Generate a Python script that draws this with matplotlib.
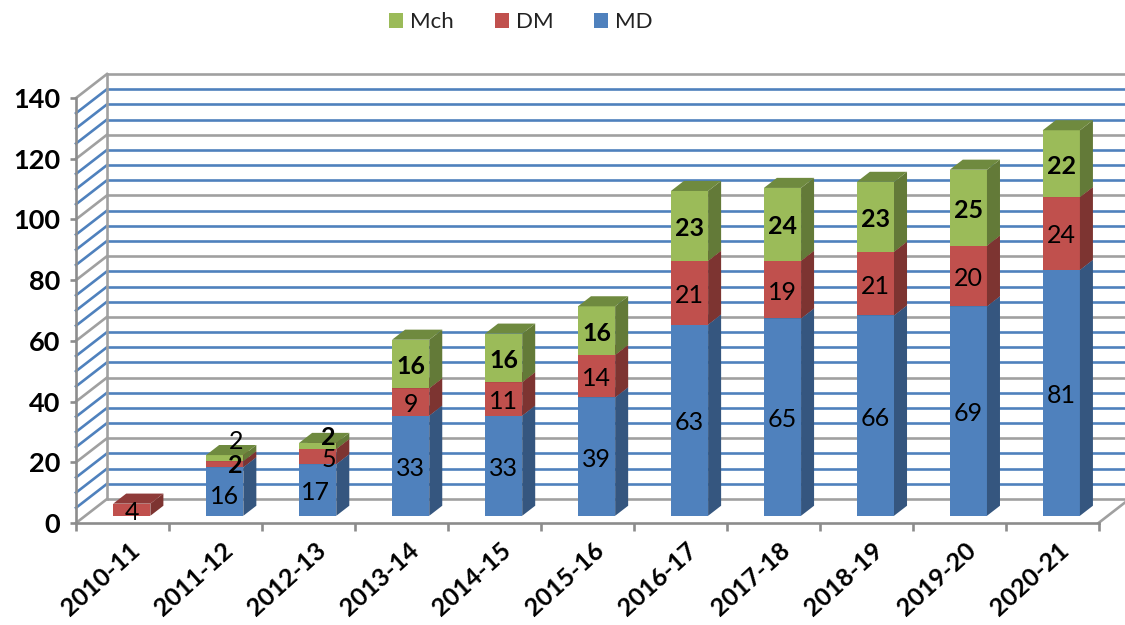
#!/usr/bin/env python3

import matplotlib
matplotlib.use("Agg")
import matplotlib.pyplot as plt
from matplotlib.patches import Polygon, Patch
from matplotlib.transforms import ScaledTranslation

plt.rcParams['font.family'] = ['Lato', 'DejaVu Sans']

years = ["2010-11", "2011-12", "2012-13", "2013-14", "2014-15", "2015-16",
         "2016-17", "2017-18", "2018-19", "2019-20", "2020-21"]
md = [0, 16, 17, 33, 33, 39, 63, 65, 66, 69, 81]
dm = [4, 2, 5, 9, 11, 14, 21, 19, 21, 20, 24]
mch = [0, 2, 2, 16, 16, 16, 23, 24, 23, 25, 22]

W, H = 1125, 625
# front plane of the fake 3d box, in pixels
LEFT, RIGHT, BOTTOM, TOP = 76, 1098.5, 523, 98
DEPTH_X, DEPTH_Y = 31, 24
YMAX = 140

BLUE, GREY = '#4F81BD', '#A0A0A0'

fig = plt.figure(figsize=(W/100, H/100), dpi=100)
ax = fig.add_axes([LEFT/W, 1-BOTTOM/H, (RIGHT-LEFT)/W, (BOTTOM-TOP)/H])
ax.set_xlim(0, len(years))
ax.set_ylim(0, YMAX)
ax.patch.set_visible(False)

px_x = (RIGHT-LEFT)/len(years)
px_y = (BOTTOM-TOP)/YMAX

def depth(x, y, d):
    """Shift a data point back by d (0 = front plane, 1 = back wall)"""
    return x + d*DEPTH_X/px_x, y + d*DEPTH_Y/px_y

# walls and floor
for v in range(0, YMAX+1, 5):
    col = GREY if v % 20 == 0 else BLUE
    z = 1.2 if v % 20 == 0 else 1
    x0, y0 = depth(0, v, 1)
    x1, y1 = depth(len(years), v, 1)
    ax.plot([x0, x1], [y0, y1], color=col, lw=1.9, clip_on=False, zorder=z,
            solid_capstyle='butt')
    ax.plot([0, x0], [v, y0], color=col, lw=1.9, clip_on=False, zorder=z)
x0, y0 = depth(0, 0, 1)
x1, y1 = depth(0, YMAX, 1)
ax.plot([x0, x1], [y0, y1], color=GREY, lw=1.9, clip_on=False, zorder=1.2)
x1, y1 = depth(len(years), 0, 1)
ax.plot([len(years), x1], [0, y1], color=GREY, lw=1.9, clip_on=False, zorder=1.2)

# series colours: front, top, side
styles = [('MD', md, '#4F81BD', '#3F6797', '#35567F'),
          ('DM', dm, '#C0504D', '#8F3B39', '#7D3431'),
          ('Mch', mch, '#9BBB59', '#6F8A3F', '#637A38')]

BAR_W = 0.4
D_FRONT, D_BACK = 0.3, 0.72

# label tweaks in pixels where the original moved them off centre
nudge = {('Mch', 1): (11, 19), ('DM', 1): (11, 1), ('Mch', 2): (11, 11),
         ('DM', 2): (11, 0), ('MD', 2): (-2, 0), ('MD', 1): (0, -2)}
bold = {('DM', 1)} | {('Mch', i) for i in range(len(years)) if i != 1}

for i in range(len(years)):
    left = i + 0.5 - BAR_W/2
    right = left + BAR_W
    base = 0
    for name, vals, front, top, side in styles:
        v = vals[i]
        if v == 0:
            continue
        a = depth(left, base, D_FRONT)
        b = depth(right, base, D_FRONT)
        c = depth(right, base+v, D_FRONT)
        e = depth(left, base+v, D_FRONT)
        f = depth(right, base, D_BACK)
        g = depth(right, base+v, D_BACK)
        k = depth(left, base+v, D_BACK)
        ax.add_patch(Polygon([a, b, c, e], fc=front, ec='none', clip_on=False, zorder=3))
        ax.add_patch(Polygon([b, f, g, c], fc=side, ec='none', clip_on=False, zorder=3))
        ax.add_patch(Polygon([e, c, g, k], fc=top, ec='none', clip_on=False, zorder=3))
        dx, dy = nudge.get((name, i), (0, 0))
        tx, ty = depth(i + 0.5, base + v/2, D_FRONT)
        ax.annotate(str(v), (tx, ty), xytext=(dx*0.72, (dy-2.5)*0.72),
                    textcoords='offset points', ha='center', va='center',
                    fontsize=18, color='black', zorder=5,
                    fontweight='bold' if (name, i) in bold else 'normal',
                    annotation_clip=False)
        base += v

# axes
for s in ('top', 'right'):
    ax.spines[s].set_visible(False)
for s in ('left', 'bottom'):
    ax.spines[s].set_color('#8C8C8C')
    ax.spines[s].set_linewidth(1.9)
    ax.spines[s].set_zorder(2)
ax.set_yticks(range(0, YMAX+1, 20))
ax.tick_params(axis='y', length=4.5, width=1.9, color='#8C8C8C', labelsize=19.5, pad=7)
ax.set_xticks(range(len(years)+1))
ax.set_xticks([i + 0.5 for i in range(len(years))], minor=True)
ax.set_xticklabels([])
ax.set_xticklabels(years, minor=True, rotation=42, ha='right', rotation_mode='anchor',
                   fontsize=18, fontweight='bold')
ax.tick_params(axis='x', which='major', length=6, width=1.9, color='#8C8C8C')
ax.tick_params(axis='x', which='minor', length=0, pad=11)
shift = ScaledTranslation(6/100, 0, fig.dpi_scale_trans)
for lab in ax.get_xticklabels(minor=True):
    lab.set_transform(lab.get_transform() + shift)
for lab in ax.get_yticklabels():
    lab.set_fontweight('bold')

handles = [Patch(fc=st[2], label=st[0]) for st in reversed(styles)]
fig.legend(handles=handles, ncol=3, loc='center', bbox_to_anchor=(521/W, 1-22.5/H),
           frameon=False, fontsize=16, handlelength=0.63, handleheight=0.63,
           handletextpad=0.3, columnspacing=1.85, borderpad=0, labelcolor='#222222')

fig.savefig("out.png", dpi=100)
